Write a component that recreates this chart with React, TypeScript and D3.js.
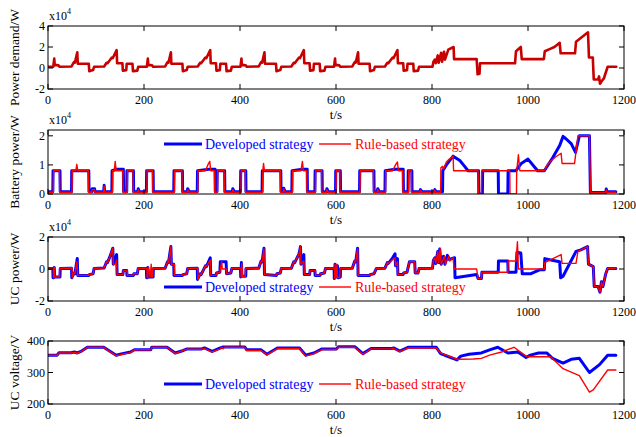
import React from "react";
import * as d3 from "d3";

type P = [number, number];

// ---------- data (time s, value) ----------
const X_TICKS = [0, 200, 400, 600, 800, 1000, 1200];

// Power demand, x1e4 W
const P_DEMAND: P[] = [
  [0,0.12],[11,0.12],[13,0.9],[14,0.3],[22,0.25],[24,0.12],[49,0.15],[54,0.55],[56,0.5],[61,1.5],[62,0.4],[85,0.4],[86,-0.3],[94,-0.2],[96,0.12],[117,0.15],[122,0.5],[124,0.45],[133,1.0],[135,0.95],[143,1.7],[144,0.45],[155,0.45],[156,-0.25],[163,-0.2],[164,0.4],[176,0.4],[177,-0.3],[186,-0.25],[188,0.12],
  [206,0.12],[208,0.9],[209,0.3],[217,0.25],[219,0.12],[244,0.15],[249,0.55],[251,0.5],[256,1.5],[257,0.4],[280,0.4],[281,-0.3],[289,-0.2],[291,0.12],[312,0.15],[317,0.5],[319,0.45],[328,1.0],[330,0.95],[338,1.7],[339,0.45],[350,0.45],[351,-0.25],[358,-0.2],[359,0.4],[371,0.4],[372,-0.3],[381,-0.25],[383,0.12],
  [401,0.12],[403,0.9],[404,0.3],[412,0.25],[414,0.12],[439,0.15],[444,0.55],[446,0.5],[451,1.5],[452,0.4],[475,0.4],[476,-0.3],[484,-0.2],[486,0.12],[507,0.15],[512,0.5],[514,0.45],[523,1.0],[525,0.95],[533,1.7],[534,0.45],[545,0.45],[546,-0.25],[553,-0.2],[554,0.4],[566,0.4],[567,-0.3],[576,-0.25],[578,0.12],
  [596,0.12],[598,0.9],[599,0.3],[607,0.25],[609,0.12],[634,0.15],[639,0.55],[641,0.5],[646,1.5],[647,0.4],[670,0.4],[671,-0.3],[679,-0.2],[681,0.12],[702,0.15],[707,0.5],[709,0.45],[718,1.0],[720,0.95],[728,1.7],[729,0.45],[740,0.45],[741,-0.25],[748,-0.2],[749,0.4],[761,0.4],[762,-0.3],[771,-0.25],[773,0.12],
  [801,0.12],[803,0.6],[806,0.8],[808,0.45],[812,1.2],[814,0.5],[819,1.45],[821,0.6],[825,1.55],[827,0.8],[834,1.75],[845,2.0],[846,0.85],[893,0.85],[895,-0.6],[899,-0.55],[900,0.45],[973,0.45],[975,1.6],[985,2.0],[987,0.85],[1033,0.85],[1035,1.6],[1045,1.8],[1055,2.0],[1066,2.4],[1068,1.4],[1098,1.4],[1100,2.5],[1125,3.4],[1127,1.0],[1135,1.0],[1137,-1.1],[1146,-1.1],[1148,-0.8],[1150,-1.5],[1156,-1.1],[1158,-1.0],[1166,0.12],[1184,0.12],
];

// Battery power, x1e4 W
const BATT_DEV: P[] = [
  [0,0.08],[10,0.08],[10.5,0.8],[25,0.8],[25.5,0.08],[49,0.08],[49.5,0.8],[85,0.8],[85.5,0.08],[91,0.08],[92,0.18],[97,0.18],[98,0.08],[116,0.08],[117,0.3],[118,0.08],[133,0.08],[133.5,0.8],[143,0.85],[157,0.85],[157.5,0.08],[164,0.08],[164.5,0.8],[178,0.8],[178.5,0.08],[187,0.08],[188,0.18],[190,0.08],
  [205,0.08],[205.5,0.8],[219,0.8],[219.5,0.08],[262,0.08],[262.5,0.8],[280,0.8],[280.5,0.08],[290,0.08],[291,0.18],[294,0.08],[311,0.08],[311.5,0.8],[335,0.85],[348,0.85],[348.5,0.08],[352,0.08],[352.5,0.8],[368,0.8],[368.5,0.08],
  [384,0.08],[385,0.18],[388,0.08],[401,0.08],[401.5,0.8],[412,0.8],[412.5,0.08],[446,0.08],[446.5,0.8],[485,0.8],[485.5,0.08],[490,0.08],[491,0.2],[494,0.08],[508,0.08],[508.5,0.8],[530,0.85],[540,0.85],[540.5,0.08],[556,0.08],[556.5,0.8],[571,0.8],[571.5,0.08],[580,0.08],[581,0.18],[584,0.08],
  [599,0.08],[599.5,0.8],[609,0.8],[609.5,0.08],[649,0.08],[649.5,0.8],[679,0.8],[679.5,0.08],[686,0.08],[687,0.18],[690,0.08],[702,0.08],[702.5,0.8],[723,0.85],[740,0.85],[740.5,0.08],[750,0.08],[750.5,0.8],[758,0.8],[758.5,0.08],[775,0.08],[776,0.15],[779,0.08],[805,0.08],[806,0.15],[808,0.08],
  [822,0.08],[822.5,0.8],[830,1.0],[844,1.3],[858,1.15],[868,0.95],[875,0.8],[897,0.8],[897.5,0],[905,0],[905.5,0.8],[938,0.8],[938.5,0],[958,0],[958.5,0.8],[975,0.8],[986,1.05],[1000,1.2],[1020,0.8],[1034,0.8],[1052,1.26],[1066,1.67],[1073,1.98],[1079,1.9],[1090,1.73],[1099,1.43],[1107,2.0],[1128,2.0],[1130,0.05],[1162,0.05],[1163,0.17],[1165,0.08],[1183,0.08],
];

const BATT_RULE: P[] = [
  [0,0.06],[11,0.06],[11.5,0.8],[24,0.8],[24.5,0.06],[50,0.06],[50.5,0.8],[58,0.8],[60,1.02],[62,0.8],[84,0.8],[84.5,0.06],[91,0.06],[92,0.15],[97,0.15],[98,0.06],[116,0.06],[117,0.28],[118,0.06],[134,0.06],[134.5,0.8],[138,0.8],[140,1.12],[142,0.8],[156,0.8],[156.5,0.06],[165,0.06],[165.5,0.8],[177,0.8],[177.5,0.06],[187,0.06],[188,0.15],[190,0.06],
  [206,0.06],[206.5,0.8],[218,0.8],[218.5,0.06],[263,0.06],[263.5,0.8],[279,0.8],[279.5,0.06],[290,0.06],[291,0.15],[294,0.06],[312,0.06],[312.5,0.8],[328,0.8],[333,1.0],[337,1.12],[339,0.8],[347,0.8],[347.5,0.06],[353,0.06],[353.5,0.8],[367,0.8],[367.5,0.06],
  [384,0.06],[385,0.15],[388,0.06],[402,0.06],[402.5,0.8],[411,0.8],[411.5,0.06],[447,0.06],[447.5,0.8],[449,1.05],[451,0.8],[484,0.8],[484.5,0.06],[490,0.06],[491,0.18],[494,0.06],[509,0.06],[509.5,0.8],[527,0.8],[530,1.12],[532,0.8],[539,0.8],[539.5,0.06],[557,0.06],[557.5,0.8],[570,0.8],[570.5,0.06],[580,0.06],[581,0.15],[584,0.06],
  [600,0.06],[600.5,0.8],[608,0.8],[608.5,0.06],[650,0.06],[650.5,0.8],[678,0.8],[678.5,0.06],[686,0.06],[687,0.15],[690,0.06],[703,0.06],[703.5,0.8],[718,0.8],[724,1.0],[728,1.1],[730,0.8],[739,0.8],[739.5,0.06],[751,0.06],[751.5,0.8],[757,0.8],[757.5,0.06],[775,0.06],[776,0.13],[779,0.06],[805,0.06],[806,0.13],[808,0.06],
  [818,0.06],[818.5,0.9],[822,0.95],[824,0.85],[830,1.1],[836,1.2],[844,1.3],[845,0.8],[896,0.8],[896.5,0],[903,0],[903.5,0.8],[962,0.8],[962.5,0],[976,0],[976.5,0.8],[980,1.35],[983,0.8],[1034,0.8],[1040,1.0],[1048,1.14],[1058,1.28],[1069,1.4],[1071,1.05],[1097,1.05],[1104,2.0],[1128,2.0],[1130,0.05],[1162,0.05],[1163,0.15],[1165,0.06],[1183,0.06],
];

// UC power, x1e4 W
const UC_DEV: P[] = [
  [0,0.03],[10,0.03],[10.5,-0.55],[12,-0.55],[13,0.1],[14,-0.5],[25,-0.5],[25.5,0.03],[49,0.05],[49.5,-0.55],[54,-0.25],[56,-0.3],[61,0.65],[62,-0.4],[85,-0.4],[86,-0.35],[94,-0.3],[96,0.03],[117,0.06],[122,0.45],[124,0.4],[130,0.85],[135,1.3],[136,0.3],[143,0.9],[144,-0.35],[156,-0.35],[157,-0.1],[164,-0.1],[164.5,-0.4],[178,-0.4],[179,-0.3],[186,-0.3],[188,0.03],
  [205,0.03],[205.5,-0.55],[207,-0.55],[208,0.1],[209,-0.5],[219,-0.5],[219.5,0.03],[244,0.05],[249,0.45],[251,0.4],[256,1.4],[257,0.3],[262,0.3],[262.5,-0.4],[280,-0.4],[281,-0.35],[289,-0.3],[291,0.03],[311,0.05],[311.5,-0.65],[317,-0.3],[319,-0.35],[328,0.2],[330,0.15],[338,0.7],[339,-0.4],[350,-0.4],[351,-0.25],[358,-0.2],[359,0.45],[371,0.45],[372,-0.3],[381,-0.25],[383,0.03],
  [401,0.03],[401.5,-0.5],[403,0.4],[404,-0.45],[412,-0.45],[412.5,0.03],[439,0.05],[444,0.5],[446,0.45],[450,1.3],[451,-0.35],[476,-0.4],[477,-0.3],[484,-0.25],[486,0.03],[507,0.05],[512,0.45],[514,0.4],[523,0.95],[526,1.4],[527,0.3],[533,0.9],[534,-0.35],[545,-0.35],[546,-0.1],[556,-0.1],[556.5,-0.4],[567,-0.4],[568,-0.3],[576,-0.25],[578,0.03],
  [596,0.03],[596.5,-0.6],[598,0.3],[599,-0.5],[603,0.2],[604,-0.55],[609,-0.5],[609.5,0.03],[634,0.05],[639,0.5],[641,0.45],[645,1.3],[646,-0.4],[670,-0.4],[671,-0.35],[679,-0.3],[684,0.03],[702,0.05],[707,0.4],[709,0.35],[718,0.7],[723,0.95],[724,0.2],[728,0.65],[729,-0.35],[740,-0.35],[741,-0.25],[748,-0.2],[753,0.45],[764,0.45],[765,-0.25],[771,-0.25],[773,0.03],
  [801,0.04],[803,0.55],[806,0.7],[808,0.35],[812,1.1],[814,0.4],[816,1.25],[819,0.3],[824,0.8],[827,0.3],[832,0.85],[836,0.6],[847,0.7],[848,-0.55],[893,-0.35],[896,-0.6],[903,-0.6],[904,-0.2],[938,-0.2],[938.5,0.5],[958,0.5],[958.5,-0.2],[975,-0.2],[977,1.05],[985,1.0],[988,-0.3],[1005,-0.3],[1024,-0.05],[1034,-0.05],[1035,0.65],[1050,0.55],[1066,0.45],[1068,-0.55],[1073,-0.45],[1100,1.1],[1110,1.2],[1124,1.4],[1126,0.3],[1136,0.15],[1138,-1.1],[1146,-1.1],[1150,-1.45],[1153,-0.8],[1156,-1.1],[1162,-0.3],[1166,0.03],[1183,0.03],
];

const UC_RULE: P[] = [
  [0,0.05],[11,0.05],[11.5,-0.55],[12.5,-0.55],[13,0.1],[14,-0.5],[24,-0.5],[24.5,0.05],[50,0.06],[50.5,-0.55],[54,-0.25],[56,-0.3],[60,0.45],[62,-0.4],[84,-0.4],[85,-0.35],[94,-0.3],[96,0.05],[117,0.06],[122,0.45],[124,0.4],[130,0.85],[135,1.3],[136,0.3],[140,0.3],[143,0.55],[144,-0.35],[156,-0.35],[157,-0.1],[165,-0.1],[165.5,-0.4],[177,-0.4],[178,-0.3],[186,-0.3],[188,0.05],
  [206,0.05],[206.5,-0.55],[208,-0.55],[209,0.1],[213,-0.5],[215,0.3],[216,-0.5],[218,-0.5],[218.5,0.05],[244,0.05],[249,0.45],[251,0.4],[256,1.4],[257,0.3],[263,0.3],[263.5,-0.4],[279,-0.4],[281,-0.35],[289,-0.3],[291,0.05],[312,0.05],[312.5,-0.65],[317,-0.3],[319,-0.35],[328,0.2],[330,0.15],[338,0.55],[339,-0.4],[350,-0.4],[351,-0.25],[358,-0.2],[359,0.0],[362,0.45],[363,0.0],[371,0.0],[372,-0.3],[381,-0.25],[383,0.05],
  [402,0.05],[402.5,-0.5],[404,0.35],[405,-0.45],[411,-0.45],[411.5,0.05],[439,0.05],[444,0.5],[446,0.45],[450,1.25],[451,-0.35],[476,-0.4],[477,-0.3],[484,-0.25],[486,0.05],[507,0.05],[512,0.45],[514,0.4],[523,0.95],[526,1.4],[527,0.3],[533,0.5],[534,-0.35],[545,-0.35],[546,-0.1],[557,-0.1],[557.5,-0.4],[566,-0.4],[568,-0.3],[576,-0.25],[578,0.05],
  [597,0.05],[597.5,-0.6],[598,0.3],[600,-0.5],[602,0.3],[603,-0.55],[608,-0.5],[608.5,0.05],[634,0.05],[639,0.5],[641,0.45],[645,1.25],[646,-0.4],[670,-0.4],[671,-0.35],[679,-0.3],[684,0.05],[702,0.05],[707,0.4],[709,0.35],[718,0.6],[723,0.7],[724,0.2],[728,0.45],[729,-0.35],[740,-0.35],[741,-0.25],[748,-0.2],[753,0.45],[764,0.45],[765,-0.25],[771,-0.25],[773,0.05],
  [801,0.05],[803,0.55],[806,0.7],[808,0.35],[812,1.1],[814,0.4],[817,1.3],[819,0.3],[826,0.8],[828,0.3],[835,0.8],[837,0.5],[844,0.7],[846,0.0],[893,0.0],[896,-0.6],[903,-0.6],[904,-0.2],[958,-0.2],[958.5,0.5],[975,0.5],[978,1.7],[980,0.0],[1034,0.0],[1035,0.4],[1069,0.9],[1071,0.35],[1100,0.35],[1104,1.1],[1124,1.4],[1126,0.3],[1136,0.15],[1138,-1.1],[1146,-1.1],[1150,-1.45],[1153,-0.8],[1156,-1.1],[1162,-0.3],[1166,0.05],[1183,0.05],
];

// UC voltage, V
const V_DEV: P[] = [
  [0,355],[19,355],[23,363],[48,363],[55,365],[61,362],[70,368],[82,380],[116,380],[142,355],[155,360],[172,365],[180,372],[214,372],[216,380],[248,380],[265,362],[282,370],[290,375],[320,375],[326,378],[342,367],[359,378],[365,381],[410,381],[414,372],[444,372],[456,358],[478,378],[524,378],[537,355],[554,362],[571,375],[601,375],[605,382],[639,382],[656,360],[673,376],[716,376],[720,378],[733,368],[750,380],[809,380],[818,360],[835,350],[852,340],[860,352],[877,358],[903,362],[920,372],[937,380],[958,362],[979,365],[996,348],[1005,355],[1022,362],[1039,362],[1051,345],[1073,330],[1090,342],[1107,345],[1128,300],[1149,325],[1166,355],[1183,355],
];
const V_RULE: P[] = [
  [0,355],[19,355],[23,362],[48,362],[55,364],[61,361],[70,368],[82,380],[116,380],[142,353],[155,358],[172,363],[180,372],[214,372],[216,380],[248,380],[265,360],[282,370],[290,374],[320,374],[326,376],[342,365],[359,375],[362,380],[365,375],[368,380],[410,380],[414,370],[444,370],[456,356],[478,376],[524,376],[537,352],[554,360],[571,373],[601,373],[605,380],[639,380],[656,358],[673,375],[716,375],[720,377],[733,366],[750,378],[809,378],[818,362],[835,352],[852,342],[886,343],[903,345],[920,355],[945,365],[971,380],[996,352],[1005,350],[1047,350],[1073,312],[1107,290],[1128,238],[1136,245],[1166,308],[1183,308],
];

const LEGEND_LABELS = ["Developed strategy", "Rule-based strategy"];

// ---------- layout ----------
const W = 636, H = 437;
const X0 = 48, X1 = 624;
const FONT = "'Liberation Serif', 'Times New Roman', serif";
const BLUE = "#0000ff", RED = "#ff0000", DARKRED = "#c80000";

interface Panel {
  top: number; bottom: number; domain: [number, number]; ticks: number[];
  label: string; exp: boolean; legendY?: number;
  series: { data: P[]; color: string; width: number }[];
}

const PANELS: Panel[] = [
  { top: 26, bottom: 89, domain: [-2, 4], ticks: [-2, 0, 2, 4], label: "Power demand/W", exp: true,
    series: [{ data: P_DEMAND, color: DARKRED, width: 2.6 }] },
  { top: 130, bottom: 194, domain: [0, 2.2], ticks: [0, 1, 2], label: "Battery power/W", exp: true, legendY: 144,
    series: [{ data: BATT_DEV, color: BLUE, width: 3 }, { data: BATT_RULE, color: RED, width: 1.4 }] },
  { top: 237, bottom: 301, domain: [-2, 2], ticks: [-2, 0, 2], label: "UC power/W", exp: true, legendY: 287,
    series: [{ data: UC_DEV, color: BLUE, width: 3 }, { data: UC_RULE, color: RED, width: 1.4 }] },
  { top: 341, bottom: 404, domain: [200, 400], ticks: [200, 300, 400], label: "UC voltage/V", exp: false, legendY: 384,
    series: [{ data: V_DEV, color: BLUE, width: 3 }, { data: V_RULE, color: RED, width: 1.4 }] },
];

const x = d3.scaleLinear().domain([0, 1200]).range([X0, X1]);

function PanelView({ p }: { p: Panel }) {
  const y = d3.scaleLinear().domain(p.domain).range([p.bottom, p.top]);
  const line = d3.line<P>().x(d => x(d[0])).y(d => y(d[1]));
  const TL = 5;
  return (
    <g>
      <defs>
        <clipPath id={`clip${p.top}`}>
          <rect x={X0} y={p.top} width={X1 - X0} height={p.bottom - p.top} />
        </clipPath>
      </defs>
      <g clipPath={`url(#clip${p.top})`}>
        {p.series.map((s, i) => (
          <path key={i} d={line(s.data) || ""} fill="none" stroke={s.color} strokeWidth={s.width}
            strokeLinejoin="round" strokeLinecap="round" />
        ))}
      </g>
      <rect x={X0} y={p.top} width={X1 - X0} height={p.bottom - p.top} fill="none" stroke="#000" strokeWidth={1} />
      {X_TICKS.map(t => (
        <g key={t}>
          <line x1={x(t)} x2={x(t)} y1={p.bottom} y2={p.bottom - TL} stroke="#000" />
          <line x1={x(t)} x2={x(t)} y1={p.top} y2={p.top + TL} stroke="#000" />
          <text x={x(t)} y={p.bottom + 15} textAnchor="middle" fontSize={12} fontFamily={FONT}>{t}</text>
        </g>
      ))}
      {p.ticks.map(v => (
        <g key={v}>
          <line x1={X0} x2={X0 + TL} y1={y(v)} y2={y(v)} stroke="#000" />
          <line x1={X1} x2={X1 - TL} y1={y(v)} y2={y(v)} stroke="#000" />
          <text x={X0 - 3} y={y(v) + 4} textAnchor="end" fontSize={12} fontFamily={FONT}>{String(v)}</text>
        </g>
      ))}
      <text x={(X0 + X1) / 2} y={p.bottom + 30} textAnchor="middle" fontSize={13} fontFamily={FONT}>t/s</text>
      <text transform={`translate(19,${(p.top + p.bottom) / 2}) rotate(-90)`} textAnchor="middle" fontSize={13.5} fontFamily={FONT}>{p.label}</text>
      {p.exp && (
        <text x={X0 + 1} y={p.top - 6} fontSize={12} fontFamily={FONT}>x10<tspan dy={-6} fontSize={8}>4</tspan></text>
      )}
      {p.legendY !== undefined && (
        <g>
          <line x1={164} x2={202} y1={p.legendY} y2={p.legendY} stroke={BLUE} strokeWidth={3} />
          <text x={205} y={p.legendY + 5} fontSize={14} fontFamily={FONT} fill={BLUE}>{LEGEND_LABELS[0]}</text>
          <line x1={319} x2={351} y1={p.legendY} y2={p.legendY} stroke={RED} strokeWidth={1.4} />
          <text x={355} y={p.legendY + 5} fontSize={14} fontFamily={FONT} fill={RED}>{LEGEND_LABELS[1]}</text>
        </g>
      )}
    </g>
  );
}

export default function App() {
  return (
    <svg width={W} height={H} style={{ position: "absolute", left: 0, top: 0, background: "#fff" }}>
      <rect width={W} height={H} fill="#fff" />
      {PANELS.map((p, i) => <PanelView key={i} p={p} />)}
    </svg>
  );
}
